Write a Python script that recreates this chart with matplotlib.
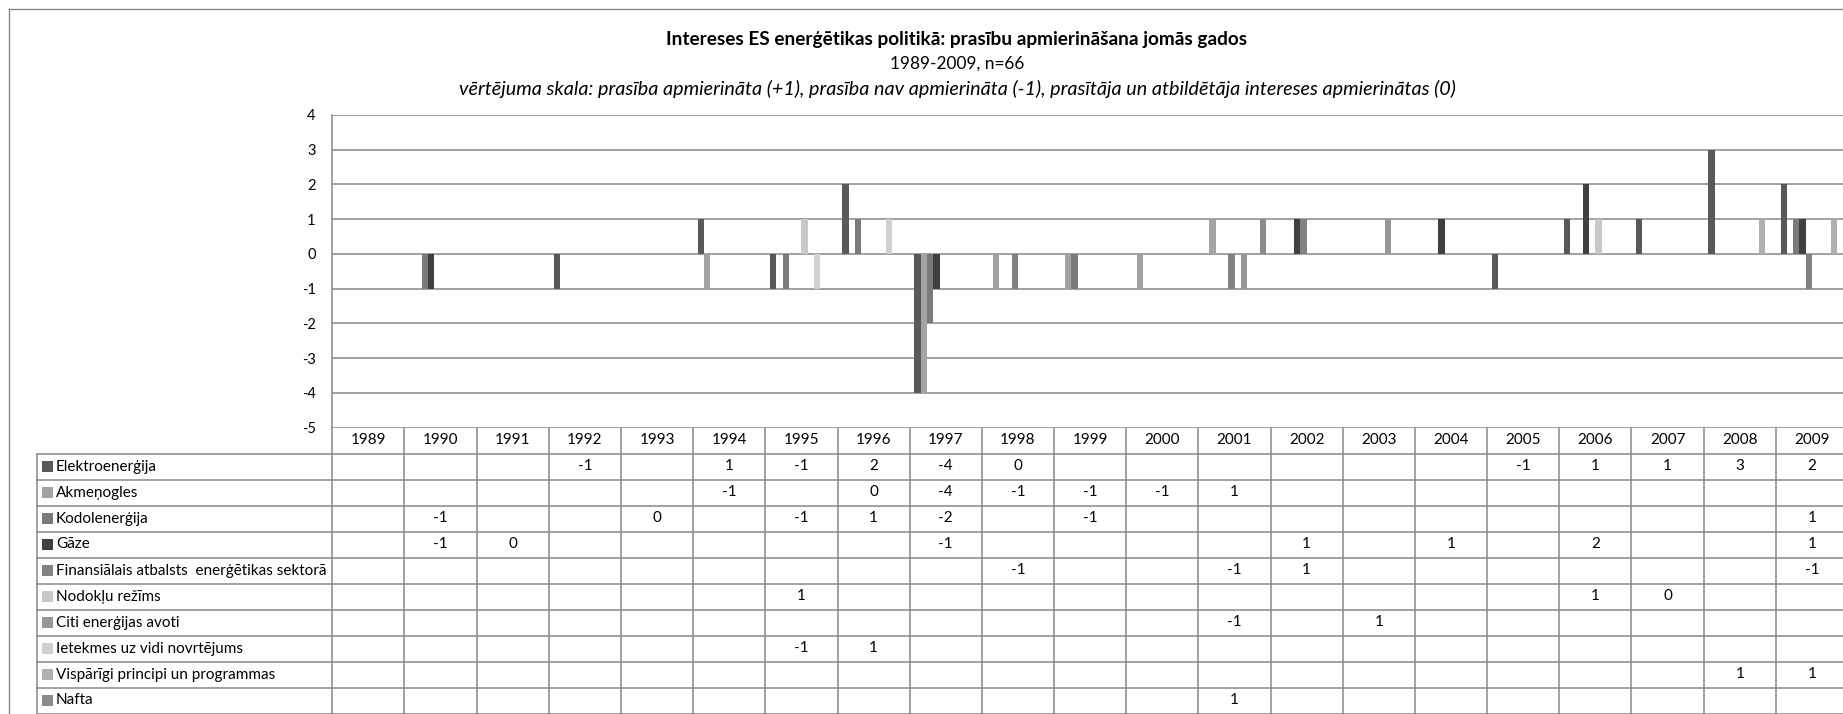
import matplotlib
matplotlib.use("Agg")
import matplotlib.pyplot as plt
from matplotlib.patches import Rectangle
from matplotlib.lines import Line2D

plt.rcParams['font.family'] = ['Lato', 'DejaVu Sans']
plt.rcParams['axes.unicode_minus'] = False

# data
years = list(range(1989, 2010))
N = None
series_names = [
    "Elektroenerģija",
    "Akmeņogles",
    "Kodolenerģija",
    "Gāze",
    "Finansiālais atbalsts  enerģētikas sektorā",
    "Nodokļu režīms",
    "Citi enerģijas avoti",
    "Ietekmes uz vidi novrtējums",
    "Vispārīgi principi un programmas",
    "Nafta",
]
elektro    = [N, N, N, -1, N, 1, -1, 2, -4, 0, N, N, N, N, N, N, -1, 1, 1, 3, 2]
akmenogles = [N, N, N, N, N, -1, N, 0, -4, -1, -1, -1, 1, N, N, N, N, N, N, N, N]
kodol      = [N, -1, N, N, 0, N, -1, 1, -2, N, -1, N, N, N, N, N, N, N, N, N, 1]
gaze       = [N, -1, 0, N, N, N, N, N, -1, N, N, N, N, 1, N, 1, N, 2, N, N, 1]
finans     = [N, N, N, N, N, N, N, N, N, -1, N, N, -1, 1, N, N, N, N, N, N, -1]
nodoklu    = [N, N, N, N, N, N, 1, N, N, N, N, N, N, N, N, N, N, 1, 0, N, N]
citi       = [N, N, N, N, N, N, N, N, N, N, N, N, -1, N, 1, N, N, N, N, N, N]
ietekmes   = [N, N, N, N, N, N, -1, 1, N, N, N, N, N, N, N, N, N, N, N, N, N]
visparigi  = [N, N, N, N, N, N, N, N, N, N, N, N, N, N, N, N, N, N, N, 1, 1]
nafta      = [N, N, N, N, N, N, N, N, N, N, N, N, 1, N, N, N, N, N, N, N, N]
series_values = [elektro, akmenogles, kodol, gaze, finans,
                 nodoklu, citi, ietekmes, visparigi, nafta]
colors = ['#595959', '#a3a3a3', '#7a7a7a', '#404040', '#828282',
          '#c8c8c8', '#969696', '#d0d0d0', '#b0b0b0', '#8c8c8c']
y_ticks = list(range(-5, 5))

W, H = 1843, 714
GRID = '#878787'
TFS = 11  # table font size

def px_box(l, t, r, b):
    return [l / W, 1 - b / H, (r - l) / W, (b - t) / H]

fig = plt.figure(figsize=(W / 100, H / 100), dpi=100)

# outer chart border
fig.add_artist(Line2D([8.5 / W, 8.5 / W], [0, 1 - 8.5 / H], color=GRID, lw=1.0))
fig.add_artist(Line2D([8.5 / W, 1], [1 - 8.5 / H, 1 - 8.5 / H], color=GRID, lw=1.0))

cx = 957 / W
fig.text(cx, 1 - 39 / H, "Intereses ES enerģētikas politikā: prasību apmierināšana jomās gados",
         ha='center', va='center', fontsize=13.7, fontweight='bold')
fig.text(cx, 1 - 64 / H, "1989-2009, n=66", ha='center', va='center', fontsize=12.4)
fig.text(cx, 1 - 89 / H,
         "vērtējuma skala: prasība apmierināta (+1), prasība nav apmierināta (-1), "
         "prasītāja un atbildētāja intereses apmierinātas (0)",
         ha='center', va='center', fontsize=14.2, style='italic')

# main plot
left, right = 332.3, 1848
ax = fig.add_axes(px_box(left, 115, right, 427.5))
n = len(series_values)
bw = 0.087
for s, (vals, col) in enumerate(zip(series_values, colors)):
    xs = [i + (s - (n - 1) / 2) * bw for i, v in enumerate(vals) if v is not None]
    hs = [v for v in vals if v is not None]
    ax.bar(xs, hs, width=bw, color=col, linewidth=0, zorder=3)

ax.set_xlim(-0.5, len(years) - 0.5)
ax.set_ylim(-5, 4)
ax.set_yticks(y_ticks)
ax.set_xticks([])
ax.yaxis.grid(True, color=GRID, lw=1.1, zorder=1)
ax.set_axisbelow(True)
for sp in ['top', 'right', 'bottom']:
    ax.spines[sp].set_visible(False)
ax.spines['left'].set_color(GRID)
ax.spines['left'].set_linewidth(1.1)
ax.tick_params(axis='y', length=0, pad=12, labelsize=10.5)

# data table
cat_px = (right - left) / len(years)
tleft = 37
x0 = -0.5 - (left - tleft) / cat_px
tax = fig.add_axes(px_box(tleft, 427.5, right, 713.5))
tax.set_xlim(x0, len(years) - 0.5)
nrows = len(series_names) + 1
tax.set_ylim(nrows, 0)
tax.axis('off')

for r in range(1, nrows + 1):
    tax.plot([x0, len(years) - 0.5], [r, r], color=GRID, lw=1.1, clip_on=False)
for k in range(len(years) + 1):
    tax.plot([k - 0.5, k - 0.5], [0, nrows], color=GRID, lw=1.1, clip_on=False)
tax.plot([x0, x0], [1, nrows], color=GRID, lw=1.1, clip_on=False)

for i, yr in enumerate(years):
    tax.text(i, 0.5, str(yr), ha='center', va='center', fontsize=TFS)

# legend keys, 11x11 px
key_w = 11 / cat_px
key_h = 11 / 26
for s, (name, vals, col) in enumerate(zip(series_names, series_values, colors)):
    yc = s + 1.5
    tax.add_patch(Rectangle((x0 + 5 / cat_px, yc - key_h / 2), key_w, key_h,
                            color=col, lw=0, clip_on=False))
    tax.text(x0 + 19 / cat_px, yc, name, ha='left', va='center', fontsize=TFS)
    for i, v in enumerate(vals):
        if v is not None:
            tax.text(i, yc, str(v), ha='center', va='center', fontsize=TFS)

fig.savefig("out.png", dpi=100)
